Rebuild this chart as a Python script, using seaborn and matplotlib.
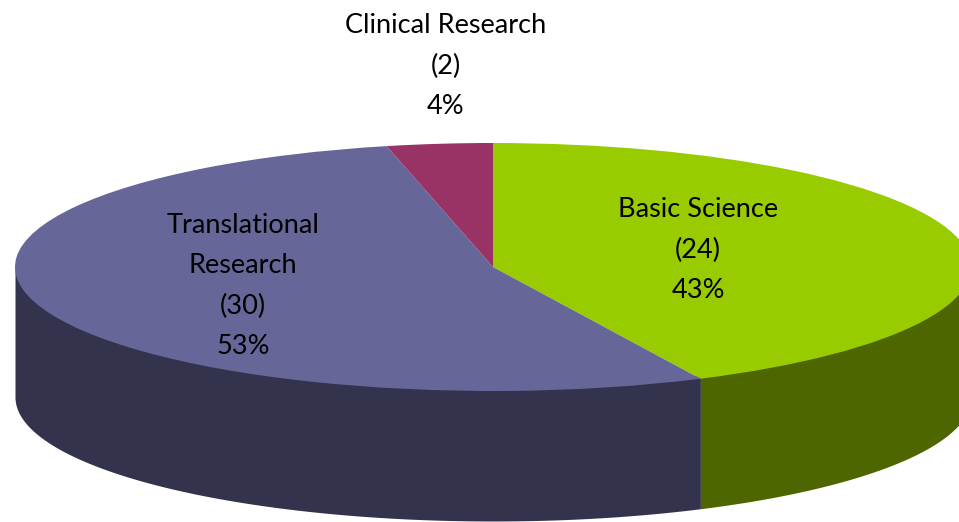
import numpy as np
import matplotlib
matplotlib.use("Agg")
import matplotlib.pyplot as plt
import seaborn as sns

sns.set_theme(style="white")
plt.rcParams['font.family'] = ['Lato', 'DejaVu Sans']

# data
categories = ["Basic Science", "Clinical Research", "Translational Research"]
counts = [24, 2, 30]
percents = ["43%", "4%", "53%"]
top_colors = ["#99CC00", "#993366", "#666699"]
side_colors = ["#4D6600", "#4D1A33", "#33334D"]

# picture is a tilted pie, one data unit = rx / ry pixels
W, H = 959, 522
cx, cy, rx, ry, depth = 493, 267, 478, 124, 130

fig = plt.figure(figsize=(W / 100, H / 100), dpi=100)
ax = fig.add_axes([0, 0, 1, 1])

# order clockwise from 12 o'clock: basic, translational, clinical
order = [0, 2, 1]
vals = [counts[i] for i in order]
ax.pie(vals, colors=[top_colors[i] for i in order], startangle=90, counterclock=False,
       wedgeprops=dict(linewidth=0, zorder=3))
ax.set_aspect('auto')
ax.set_xlim(-cx / rx, (W - cx) / rx)
ax.set_ylim((cy - H) / ry, cy / ry)
ax.axis('off')

# side wall, only the part of each slice facing the viewer
# wall starts a little under the top face so no white seam shows
edges = 90 - np.cumsum([0] + vals) / sum(vals) * 360
d = depth / ry
for i, o in enumerate(order):
    a1, a0 = edges[i], edges[i + 1]
    lo, hi = max(a0, -180), min(a1, 0)
    if hi <= lo:
        continue
    t = np.radians(np.linspace(lo, hi, 200))
    ax.fill_between(np.cos(t), np.sin(t) + 0.03, np.sin(t) - d, color=side_colors[o], lw=0, zorder=2)


def px(x, y):
    return (x - cx) / rx, (cy - y) / ry


label_names = ["Basic Science", "Clinical Research", "Translational\nResearch"]
label_pos = [(698, 250), (446, 66), (243, 286)]
for name, n, p, (x, y) in zip(label_names, counts, percents, label_pos):
    xx, yy = px(x, y)
    ax.text(xx, yy, f"{name}\n({n})\n{p}", ha='center', va='center', fontsize=19.5, color='black',
            linespacing=1.78, zorder=5)

fig.savefig("out.png", dpi=100)
